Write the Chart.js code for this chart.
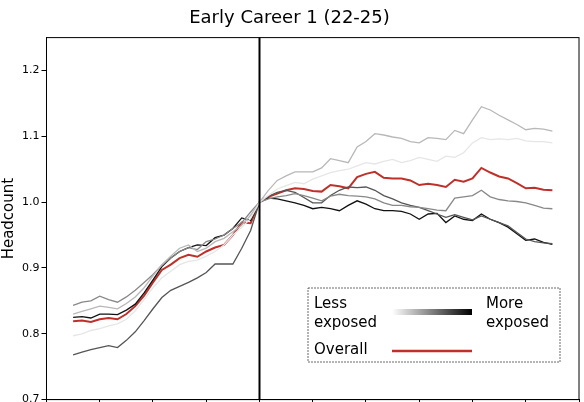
<!DOCTYPE html>
<html><head><meta charset="utf-8">
<script src="https://cdn.jsdelivr.net/npm/chart.js@4"></script>
<style>html,body{margin:0;padding:0;overflow:hidden;background:#fff}#w{width:584px;height:425px}</style>
</head><body><div id="w"><canvas id="c"></canvas></div>
<script>
const months = Array.from({length:55},(_,i)=>i-21);
const yTicks = [0.7,0.8,0.9,1.0,1.1,1.2];
const q1 = [0.797,0.80,0.805,0.808,0.812,0.815,0.822,0.835,0.852,0.870,0.885,0.895,0.905,0.91,0.912,0.918,0.925,0.935,0.950,0.962,0.975,1.0,
 1.01,1.02,1.025,1.03,1.028,1.035,1.04,1.045,1.048,1.05,1.055,1.06,1.058,1.062,1.065,1.06,1.063,1.068,1.065,1.062,1.07,1.068,1.075,1.09,1.098,1.095,1.096,1.095,1.097,1.093,1.092,1.092,1.09];
const q2 = [0.830,0.834,0.838,0.842,0.840,0.838,0.846,0.856,0.870,0.888,0.905,0.918,0.930,0.935,0.925,0.930,0.940,0.945,0.955,0.965,0.980,1.0,
 1.018,1.033,1.040,1.046,1.046,1.046,1.052,1.066,1.063,1.060,1.084,1.092,1.104,1.102,1.099,1.097,1.092,1.090,1.098,1.097,1.095,1.109,1.104,1.125,1.145,1.140,1.132,1.125,1.118,1.110,1.112,1.111,1.108];
const q3 = [0.843,0.848,0.850,0.857,0.852,0.848,0.856,0.866,0.878,0.890,0.904,0.915,0.925,0.931,0.928,0.940,0.944,0.950,0.960,0.969,0.985,1.0,
 1.005,1.008,1.010,1.013,1.010,1.006,1.002,1.009,1.012,1.010,1.009,1.008,1.005,0.999,0.995,0.995,0.993,0.992,0.990,0.988,0.987,1.006,1.008,1.010,1.018,1.008,1.004,1.002,1.001,0.999,0.995,0.991,0.990];
const q4 = [0.768,0.772,0.776,0.779,0.782,0.779,0.790,0.803,0.820,0.838,0.855,0.866,0.872,0.878,0.885,0.893,0.906,0.906,0.906,0.930,0.957,1.0,
 1.009,1.015,1.018,1.015,1.007,0.999,0.999,1.010,1.018,1.023,1.022,1.023,1.018,1.010,1.005,0.999,0.995,0.992,0.987,0.982,0.977,0.981,0.977,0.973,0.979,0.974,0.969,0.964,0.954,0.944,0.940,0.938,0.937];
const q5 = [0.825,0.826,0.824,0.830,0.830,0.829,0.836,0.845,0.862,0.882,0.902,0.915,0.925,0.931,0.935,0.934,0.946,0.950,0.960,0.976,0.972,1.0,
 1.006,1.005,1.002,0.999,0.995,0.990,0.992,0.990,0.987,0.995,1.002,0.997,0.990,0.987,0.987,0.986,0.982,0.974,0.982,0.983,0.969,0.979,0.974,0.972,0.982,0.974,0.969,0.962,0.952,0.942,0.944,0.939,0.936];
const overall = [0.819,0.82,0.818,0.822,0.824,0.822,0.830,0.842,0.858,0.878,0.897,0.905,0.915,0.92,0.917,0.925,0.931,0.935,0.950,0.969,0.968,1.0,
 1.008,1.013,1.018,1.021,1.020,1.017,1.016,1.026,1.024,1.021,1.038,1.043,1.046,1.037,1.036,1.036,1.033,1.026,1.028,1.026,1.023,1.034,1.031,1.036,1.052,1.045,1.039,1.036,1.029,1.021,1.022,1.019,1.018];
const series = [[q1,'#e6e6e6'],[q2,'#b8b8b8'],[q3,'#888888'],[q4,'#555555'],[q5,'#111111'],[overall,'#c0302a']];
const ds = series.map(([v,c],i)=>({data:v.map((y,k)=>({x:months[k],y})),borderColor:c,borderWidth:i==5?2:1.3,pointRadius:0,tension:0}));
const extras = {id:'extras',afterDatasetsDraw(ch){
  const {ctx,chartArea:a,scales:{x,y}}=ch;
  ctx.save();
  ctx.strokeStyle='#000';ctx.lineWidth=1;ctx.strokeRect(a.left,a.top,a.right-a.left,a.bottom-a.top);
  const px=x.getPixelForValue(0);
  ctx.lineWidth=2;ctx.beginPath();ctx.moveTo(px,a.top);ctx.lineTo(px,a.bottom);ctx.stroke();
  const L=308,T=288,W=252,H=74;
  ctx.fillStyle='#fff';ctx.fillRect(L,T,W,H);
  ctx.strokeStyle='#444';ctx.lineWidth=0.8;ctx.setLineDash([2,1]);ctx.strokeRect(L,T,W,H);ctx.setLineDash([]);
  ctx.fillStyle='#000';ctx.font='15px "DejaVu Sans"';ctx.textBaseline='middle';
  ctx.fillText('Less',314,304);ctx.fillText('exposed',314,323);
  ctx.fillText('More',486,304);ctx.fillText('exposed',486,323);
  ctx.fillText('Overall',314,350);
  const g=ctx.createLinearGradient(392,0,472,0);g.addColorStop(0,'#ffffff');g.addColorStop(1,'#000000');
  ctx.fillStyle=g;ctx.fillRect(392,309,80,6);
  ctx.strokeStyle='#c0302a';ctx.lineWidth=2.5;ctx.beginPath();ctx.moveTo(392,351);ctx.lineTo(472,351);ctx.stroke();
  ctx.restore();
}};
new Chart(document.getElementById('c'),{type:'line',data:{datasets:ds},plugins:[extras],
options:{responsive:true,maintainAspectRatio:false,animation:false,
 layout:{padding:{top:0,right:5,bottom:0,left:0}},
 plugins:{legend:{display:false},tooltip:{enabled:false},
  title:{display:true,text:'Early Career 1 (22-25)',color:'#000',font:{size:18,family:'DejaVu Sans',weight:'normal'},padding:{top:8,bottom:8}}},
 scales:{
  x:{type:'linear',min:-24,max:36,ticks:{stepSize:6,color:'#000',callback:()=>''},grid:{drawOnChartArea:false,tickLength:5,color:'#000'},border:{color:'#000',width:1}},
  y:{min:0.7,max:1.25,afterBuildTicks:s=>{s.ticks=yTicks.map(v=>({value:v}));},
     ticks:{color:'#000',font:{size:11,family:'DejaVu Sans'},padding:2,callback:v=>v.toFixed(1)},
     grid:{drawOnChartArea:false,tickLength:5,color:'#000'},border:{color:'#000',width:1},
     title:{display:true,text:'Headcount',color:'#000',font:{size:15,family:'DejaVu Sans'},padding:{top:0,bottom:2}}}
 }}});
</script></body></html>
